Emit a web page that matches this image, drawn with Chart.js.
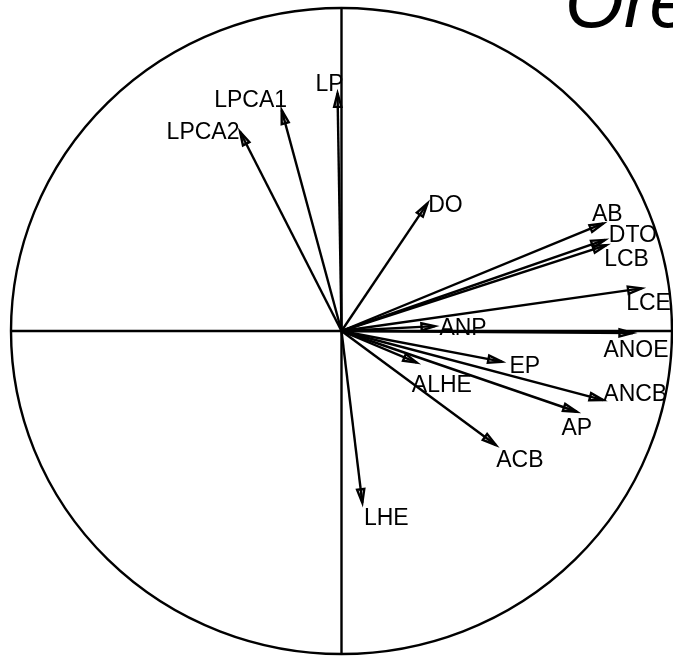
<!DOCTYPE html>
<html>
<head>
<meta charset="utf-8">
<script src="https://cdn.jsdelivr.net/npm/chart.js@4/dist/chart.umd.min.js"></script>
<style>
  html, body { margin: 0; padding: 0; background: #fff; }
  #wrap { width: 673px; height: 658px; position: relative; }
</style>
</head>
<body>
<div id="wrap"><canvas id="c" width="673" height="658"></canvas></div>
<script>
// Variable names and their correlations with the first two axes
const variables = ['LP', 'LPCA1', 'LPCA2', 'DO', 'AB', 'DTO', 'LCB', 'LCE',
                   'ANOE', 'ANP', 'EP', 'ALHE', 'ANCB', 'AP', 'ACB', 'LHE'];
const axis1 = [-0.012, -0.181, -0.307, 0.260, 0.792, 0.797, 0.802, 0.908,
               0.882, 0.283, 0.485, 0.228, 0.792, 0.712, 0.467, 0.063];
const axis2 = [0.736, 0.684, 0.617, 0.395, 0.333, 0.282, 0.266, 0.132,
               -0.006, 0.015, -0.095, -0.098, -0.214, -0.250, -0.353, -0.532];
const titleText = 'Ore';

// Pixel nudges of each label's centre from its arrow tip
const labelNudge = {
  LP: [-8, -10], LPCA1: [-31, -11], LPCA2: [-37, -1], DO: [18, 1],
  AB: [4, -10], DTO: [28, -6], LCB: [20, 13], LCE: [7, 14],
  ANOE: [3, 16], ANP: [28, 1], EP: [23, 3], ALHE: [25, 21],
  ANCB: [32, -7], AP: [0, 15], ACB: [24, 14], LHE: [24, 14]
};

const FONT = '"Liberation Sans", Arial, Helvetica, sans-serif';
const LINE_W = 2.4;

// One segment per variable, from the origin to its coordinates
const datasets = variables.map((name, i) => ({
  label: name,
  data: [{ x: 0, y: 0 }, { x: axis1[i], y: axis2[i] }],
  showLine: true,
  borderColor: '#000',
  borderWidth: LINE_W,
  pointRadius: 0,
  fill: false
}));

const circlePlugin = {
  id: 'corrCircle',
  beforeDatasetsDraw(chart) {
    const { ctx, scales: { x, y } } = chart;
    const cx = x.getPixelForValue(0), cy = y.getPixelForValue(0);
    const rx = x.getPixelForValue(1) - cx, ry = cy - y.getPixelForValue(1);
    ctx.save();
    ctx.strokeStyle = '#000';
    ctx.lineWidth = LINE_W;
    ctx.beginPath();
    ctx.ellipse(cx, cy, rx, ry, 0, 0, Math.PI * 2);
    ctx.stroke();
    ctx.beginPath();
    ctx.moveTo(x.getPixelForValue(-1), cy);
    ctx.lineTo(x.getPixelForValue(1), cy);
    ctx.moveTo(cx, y.getPixelForValue(1));
    ctx.lineTo(cx, y.getPixelForValue(-1));
    ctx.stroke();
    ctx.restore();
  },
  afterDatasetsDraw(chart) {
    const { ctx, scales: { x, y } } = chart;
    const x0 = x.getPixelForValue(0), y0 = y.getPixelForValue(0);
    ctx.save();
    ctx.strokeStyle = '#000';
    ctx.fillStyle = '#000';
    ctx.lineWidth = LINE_W;
    ctx.lineJoin = 'miter';
    const len = 14, ang = 15 * Math.PI / 180;
    variables.forEach((name, i) => {
      const tx = x.getPixelForValue(axis1[i]);
      const ty = y.getPixelForValue(axis2[i]);
      const th = Math.atan2(ty - y0, tx - x0);
      ctx.beginPath();
      ctx.moveTo(tx, ty);
      ctx.lineTo(tx - len * Math.cos(th - ang), ty - len * Math.sin(th - ang));
      ctx.lineTo(tx - len * Math.cos(th + ang), ty - len * Math.sin(th + ang));
      ctx.closePath();
      ctx.stroke();
      const n = labelNudge[name] || [0, 0];
      ctx.font = '23px ' + FONT;
      ctx.textAlign = 'center';
      ctx.textBaseline = 'alphabetic';
      ctx.fillText(name, tx + n[0], ty + n[1] + 8);
    });
    ctx.font = 'italic 76px ' + FONT;
    ctx.textAlign = 'left';
    ctx.fillText(titleText, 565, 27);
    ctx.restore();
  }
};

new Chart(document.getElementById('c'), {
  type: 'scatter',
  data: { datasets },
  options: {
    responsive: false,
    animation: false,
    layout: { padding: { left: 11, right: 1, top: 8, bottom: 4 } },
    plugins: { legend: { display: false }, tooltip: { enabled: false }, title: { display: false } },
    scales: {
      x: { type: 'linear', min: -1, max: 1, display: false },
      y: { type: 'linear', min: -1, max: 1, display: false }
    }
  },
  plugins: [circlePlugin]
});
</script>
</body>
</html>
